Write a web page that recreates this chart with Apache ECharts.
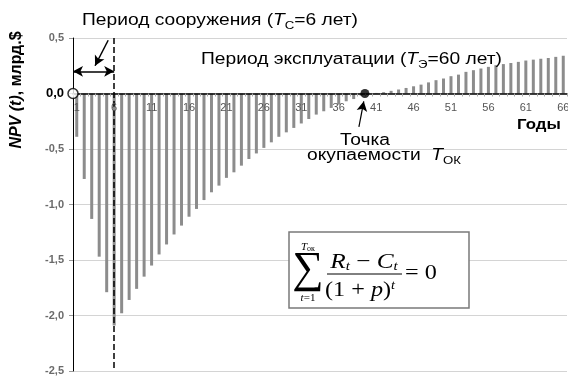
<!DOCTYPE html>
<html><head><meta charset="utf-8">
<script src="https://cdn.jsdelivr.net/npm/echarts@6/dist/echarts.min.js"></script>
<style>html,body{margin:0;padding:0;background:#fff}#c{width:568px;height:377px}</style>
</head><body><div id="c"></div>
<script>
// ---- data ----
const years = ['1','2','3','4','5','6','7','8','9','10','11','12','13','14','15','16','17','18','19','20',
  '21','22','23','24','25','26','27','28','29','30','31','32','33','34','35','36','37','38','39','40',
  '41','42','43','44','45','46','47','48','49','50','51','52','53','54','55','56','57','58','59','60',
  '61','62','63','64','65','66'];
const npv = [-0.39,-0.77,-1.13,-1.47,-1.79,-2.09,-1.98,-1.86,-1.76,-1.65,
  -1.55,-1.45,-1.36,-1.27,-1.19,-1.11,-1.04,-0.96,-0.89,-0.83,
  -0.76,-0.71,-0.65,-0.59,-0.54,-0.49,-0.44,-0.39,-0.35,-0.31,
  -0.27,-0.23,-0.19,-0.16,-0.13,-0.10,-0.07,-0.05,-0.02,-0.004,
  0.005,0.012,0.024,0.036,0.05,0.065,0.08,0.10,0.12,0.135,
  0.156,0.17,0.195,0.21,0.225,0.24,0.255,0.265,0.275,0.285,
  0.297,0.305,0.313,0.32,0.33,0.34];
const yTicks = [-2.5,-2,-1.5,-1,-0.5,0,0.5];
const yTickLabels = ['-2,5','-2,0','-1,5','-1,0','-0,5','0,0','0,5'];
const xLabelEvery = 5;
const constructionEnd = 6;     // T_C = 6
const paybackPoint = 39.5;     // T_OK

const SANS = '"Liberation Sans", Arial, sans-serif';
const SERIF = '"Liberation Serif", "Times New Roman", serif';

const GRID = {left: 73, right: 1, top: 38, bottom: 6};
const H = 377 - GRID.top - GRID.bottom;
const yMin = yTicks[0], yMax = yTicks[yTicks.length - 1];
const zeroFromBottom = H * (0 - yMin) / (yMax - yMin);

const chart = echarts.init(document.getElementById('c'), null, {renderer:'canvas'});

const option = {
  animation: false,
  backgroundColor: '#fff',
  grid: Object.assign({containLabel: false, outerBoundsMode: 'none'}, GRID),
  xAxis: [
    {
      type: 'category', data: years, boundaryGap: true, position: 'bottom', offset: -zeroFromBottom, z: 8,
      axisLine: {onZero: false, lineStyle: {color: '#000', width: 1.5}},
      axisTick: {show: true, interval: 0, length: 3, lineStyle: {color: '#aaa'}},
      axisLabel: {interval: xLabelEvery - 1, color: '#555', fontSize: 11, margin: 9, fontFamily: SANS, hideOverlap: false},
      splitLine: {show: false}
    },
    {type: 'value', min: 0.5, max: years.length + 0.5, show: false}
  ],
  yAxis: {
    type: 'value', min: yMin, max: yMax, interval: 0.5,
    axisLine: {show: true, onZero: false, lineStyle: {color: '#000', width: 1}},
    axisTick: {show: true, length: 4, lineStyle: {color: '#999'}},
    splitLine: {show: true, lineStyle: {color: '#d4d4d4', width: 1}},
    axisLabel: {
      margin: 9, fontFamily: SANS,
      formatter: function (v) {
        const i = yTicks.findIndex(t => Math.abs(t - v) < 1e-9);
        const s = i >= 0 ? yTickLabels[i] : '';
        return Math.abs(v) < 1e-9 ? '{z|' + s + '}' : '{g|' + s + '}';
      },
      rich: {
        g: {color: '#6b6b6b', fontSize: 11, fontWeight: 'bold', fontFamily: SANS},
        z: {color: '#000', fontSize: 13, fontWeight: 'bold', fontFamily: SANS}
      }
    }
  },
  series: [
    {
      type: 'bar', xAxisIndex: 0, data: npv, barWidth: 3,
      itemStyle: {color: '#8c8c8c'}, z: 2
    },
    {
      type: 'scatter', xAxisIndex: 1, z: 10,
      data: [
        {value: [0.5, 0], symbolSize: 10, itemStyle: {color: '#fff', borderColor: '#000', borderWidth: 1.5}},
        {value: [paybackPoint, 0], symbolSize: 9, itemStyle: {color: '#000'}}
      ],
      markLine: {
        silent: true, animation: false,
        label: {show: false},
        lineStyle: {color: '#000', width: 1.5, type: 'solid'},
        symbolSize: [8, 10],
        data: [
          [{xAxis: constructionEnd, yAxis: 0.5, symbol: 'none', lineStyle: {type: [6, 3], width: 1.5, color: '#000'}},
           {xAxis: constructionEnd, yAxis: -2.5, symbol: 'none'}],
          [{coord: [0.5, 0.2], symbol: 'arrow'}, {coord: [constructionEnd, 0.2], symbol: 'arrow'}],
          [{coord: [5.2, 0.48], symbol: 'none'}, {coord: [3.45, 0.25], symbol: 'arrow'}],
          [{coord: [38.7, -0.3], symbol: 'none', lineStyle: {width: 1.2}}, {coord: [39.35, -0.07], symbol: 'arrow'}]
        ]
      }
    }
  ],
  graphic: [
    // axis title (rotated)
    {type: 'text', x: 17, y: 90, rotation: Math.PI / 2, z: 100,
     style: {text: '{i|NPV (t)}{b|, млрд.$}', align: 'center', verticalAlign: 'middle',
       rich: {i: {fontSize: 16, fontWeight: 'bold', fontStyle: 'italic', fontFamily: SANS, fill: '#000'},
              b: {fontSize: 16, fontWeight: 'bold', fontFamily: SANS, fill: '#000'}}}},
    // construction period
    {type: 'text', x: 82, y: 21, scaleX: 1.2, z: 100,
     style: {text: '{n|Период сооружения (}{i|T}{s|С}{n|=6 лет)}', align: 'left', verticalAlign: 'middle',
       rich: {n: {fontSize: 16, fontFamily: SANS, fill: '#000', lineHeight: 20},
              i: {fontSize: 16, fontFamily: SANS, fontStyle: 'italic', fill: '#000', lineHeight: 20},
              s: {fontSize: 11, fontFamily: SANS, fill: '#000', lineHeight: 12, verticalAlign: 'bottom'}}}},
    // exploitation period
    {type: 'text', x: 201, y: 60, scaleX: 1.2, z: 100,
     style: {text: '{n|Период эксплуатации (}{i|T}{s|Э}{n|=60 лет)}', align: 'left', verticalAlign: 'middle',
       rich: {n: {fontSize: 16, fontFamily: SANS, fill: '#000', lineHeight: 20},
              i: {fontSize: 16, fontFamily: SANS, fontStyle: 'italic', fill: '#000', lineHeight: 20},
              s: {fontSize: 11, fontFamily: SANS, fill: '#000', lineHeight: 12, verticalAlign: 'bottom'}}}},
    // years label
    {type: 'text', x: 517, y: 125, scaleX: 1.2, z: 100,
     style: {text: 'Годы', fontSize: 14, fontWeight: 'bold', fontFamily: SANS, fill: '#000', align: 'left', verticalAlign: 'middle'}},
    // payback point
    {type: 'text', x: 365, y: 141, scaleX: 1.2, z: 100,
     style: {text: 'Точка', fontSize: 16, fontFamily: SANS, fill: '#000', align: 'center', verticalAlign: 'middle'}},
    {type: 'text', x: 307, y: 156, scaleX: 1.2, z: 100,
     style: {text: '{n|окупаемости  }{i|T}{s|ОК}', align: 'left', verticalAlign: 'middle',
       rich: {n: {fontSize: 16, fontFamily: SANS, fill: '#000', lineHeight: 20},
              i: {fontSize: 16, fontFamily: SANS, fontStyle: 'italic', fill: '#000', lineHeight: 20},
              s: {fontSize: 11, fontFamily: SANS, fill: '#000', lineHeight: 12, verticalAlign: 'bottom'}}}},
    // formula box
    {type: 'rect', z: 90, shape: {x: 289, y: 232, width: 180, height: 76},
     style: {fill: '#fff', stroke: '#7a7a7a', lineWidth: 1.5}},
    {type: 'text', x: 308, y: 270, z: 100,
     style: {text: '∑', fontSize: 44, fontFamily: SERIF, fill: '#000', align: 'center', verticalAlign: 'middle'}},
    {type: 'text', x: 308, y: 247, z: 100,
     style: {text: '{i|T}{s|ок}', align: 'center', verticalAlign: 'middle',
       rich: {i: {fontSize: 11, fontStyle: 'italic', fontFamily: SERIF, fill: '#000', lineHeight: 12},
              s: {fontSize: 8, fontFamily: SERIF, fill: '#000', lineHeight: 8, verticalAlign: 'bottom'}}}},
    {type: 'text', x: 308, y: 298, z: 100,
     style: {text: '{i|t}{n|=1}', align: 'center', verticalAlign: 'middle',
       rich: {i: {fontSize: 11, fontStyle: 'italic', fontFamily: SERIF, fill: '#000'},
              n: {fontSize: 11, fontFamily: SERIF, fill: '#000'}}}},
    {type: 'text', x: 364, y: 262, scaleX: 1.15, z: 100,
     style: {text: '{i|R}{s|t}{n| − }{i|C}{s|t}', align: 'center', verticalAlign: 'middle',
       rich: {i: {fontSize: 22, fontStyle: 'italic', fontFamily: SERIF, fill: '#000', lineHeight: 22},
              n: {fontSize: 22, fontFamily: SERIF, fill: '#000', lineHeight: 22},
              s: {fontSize: 13, fontStyle: 'italic', fontFamily: SERIF, fill: '#000', lineHeight: 13, verticalAlign: 'bottom'}}}},
    {type: 'line', z: 100, shape: {x1: 327, y1: 274, x2: 402, y2: 274}, style: {stroke: '#000', lineWidth: 1}},
    {type: 'text', x: 360, y: 290, scaleX: 1.1, z: 100,
     style: {text: '{n|(1 + }{i|p}{n|)}{p|t}', align: 'center', verticalAlign: 'middle',
       rich: {i: {fontSize: 22, fontStyle: 'italic', fontFamily: SERIF, fill: '#000', lineHeight: 22},
              n: {fontSize: 22, fontFamily: SERIF, fill: '#000', lineHeight: 22},
              p: {fontSize: 13, fontStyle: 'italic', fontFamily: SERIF, fill: '#000', lineHeight: 13, verticalAlign: 'top'}}}},
    {type: 'text', x: 405, y: 273, scaleX: 1.1, z: 100,
     style: {text: '= 0', fontSize: 22, fontFamily: SERIF, fill: '#000', align: 'left', verticalAlign: 'middle'}}
  ]
};
chart.setOption(option);
</script>
</body></html>
